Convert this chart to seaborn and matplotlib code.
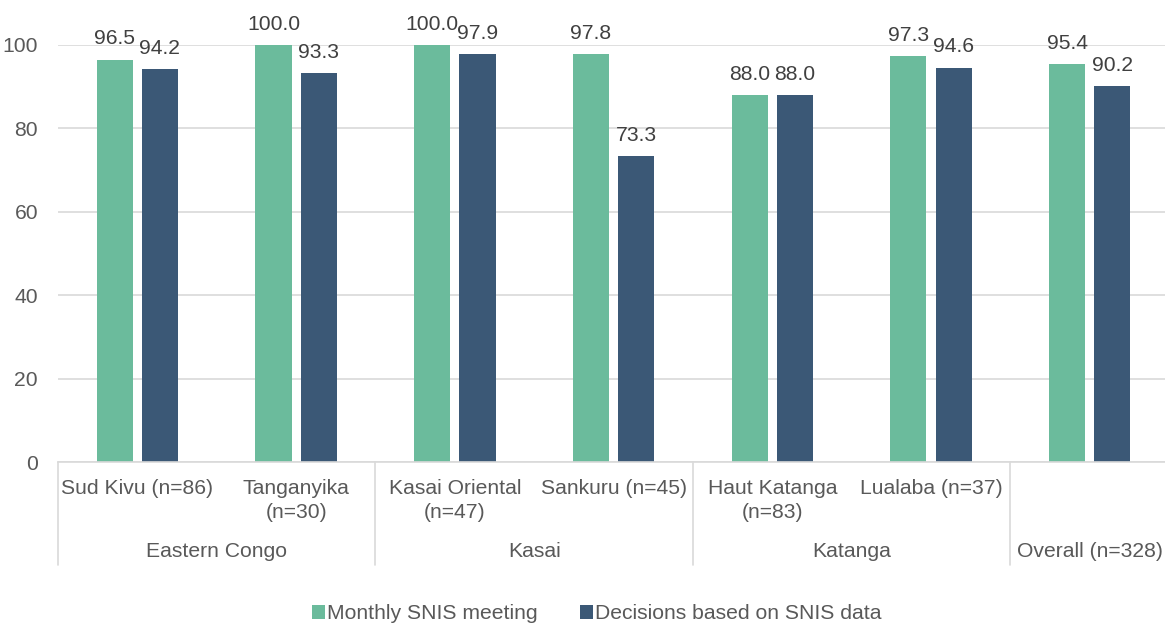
import matplotlib
matplotlib.use("Agg")
import matplotlib.pyplot as plt
import matplotlib.transforms as mtransforms
from matplotlib.patches import Patch
import seaborn as sns
import pandas as pd

provinces = ["Sud Kivu (n=86)", "Tanganyika\n(n=30)", "Kasai Oriental\n(n=47)",
             "Sankuru (n=45)", "Haut Katanga\n(n=83)", "Lualaba (n=37)", ""]
regions = ["Eastern Congo", "Kasai", "Katanga", "Overall (n=328)"]
region_sizes = [2, 2, 2, 1]
monthly_meeting = [96.5, 100.0, 100.0, 97.8, 88.0, 97.3, 95.4]
decisions = [94.2, 93.3, 97.9, 73.3, 88.0, 94.6, 90.2]
series_names = ["Monthly SNIS meeting", "Decisions based on SNIS data"]
colors = ["#6bbb9c", "#3b5876"]
yticks = [0, 20, 40, 60, 80, 100]

keys = [f"c{i}" for i in range(len(provinces))]
df = pd.DataFrame({
    "cat": keys * 2,
    "value": monthly_meeting + decisions,
    "series": [series_names[0]] * len(keys) + [series_names[1]] * len(keys),
})

sns.set_theme(style="white")
plt.rcParams["font.family"] = ["Liberation Sans", "DejaVu Sans"]
text_color = "#595959"
grid_color = "#d9d9d9"
fs = 15.2

fig = plt.figure(figsize=(11.65, 6.24), dpi=100)
ax = fig.add_axes([0.0498, 0.2596, 0.9537, 0.6683])

sns.barplot(data=df, x="cat", y="value", hue="series", order=keys,
            hue_order=series_names, palette=colors, width=0.57, gap=0.2,
            saturation=1, linewidth=0, ax=ax, legend=False, errorbar=None)

ax.set_ylim(0, 100)
ax.set_xlim(-0.5, len(keys) - 0.5)
ax.set_yticks(yticks)
ax.set_yticklabels([str(t) for t in yticks], fontsize=fs, color=text_color)
ax.tick_params(axis="y", length=0, pad=14.4)
ax.yaxis.grid(True, color=grid_color, linewidth=1.2)
ax.set_axisbelow(True)
for s in ["top", "right", "left"]:
    ax.spines[s].set_visible(False)
ax.spines["bottom"].set_color(grid_color)
ax.spines["bottom"].set_linewidth(1.2)
ax.set_xlabel("")
ax.set_ylabel("")

# category labels (first level)
ax.set_xticks(range(len(keys)))
ax.set_xticklabels([])
ax.tick_params(axis="x", length=0)
trans = mtransforms.blended_transform_factory(ax.transData, ax.transAxes)
px = 1.0 / (0.6683 * 624)  # one pixel in axes-fraction units
for i, lab in enumerate(provinces):
    ax.text(i, -17 * px, lab, transform=trans, ha="center", va="top",
            fontsize=fs, color=text_color, linespacing=1.35, clip_on=False)

# region labels and separators (second level)
start = -0.5
bottom_y = -103 * px
for name, n in zip(regions, region_sizes):
    center = start + n / 2
    ax.text(center, -80 * px, name, transform=trans, ha="center", va="top",
            fontsize=fs, color=text_color, clip_on=False)
    ax.plot([start, start], [0, bottom_y], transform=trans, color=grid_color,
            linewidth=1.2, clip_on=False)
    start += n

# value labels
for container in ax.containers:
    ax.bar_label(container, fmt="%.1f", padding=8, fontsize=fs,
                 color="#404040", clip_on=False)

handles = [Patch(facecolor=c, edgecolor="none") for c in colors]
fig.legend(handles, series_names, loc="lower center", bbox_to_anchor=(0.5125, -0.0296),
           ncol=2, frameon=False, fontsize=fs, handlelength=0.6, handleheight=0.6,
           handletextpad=0.12, columnspacing=2.0, labelcolor=text_color)

fig.savefig("out.png", dpi=100)
